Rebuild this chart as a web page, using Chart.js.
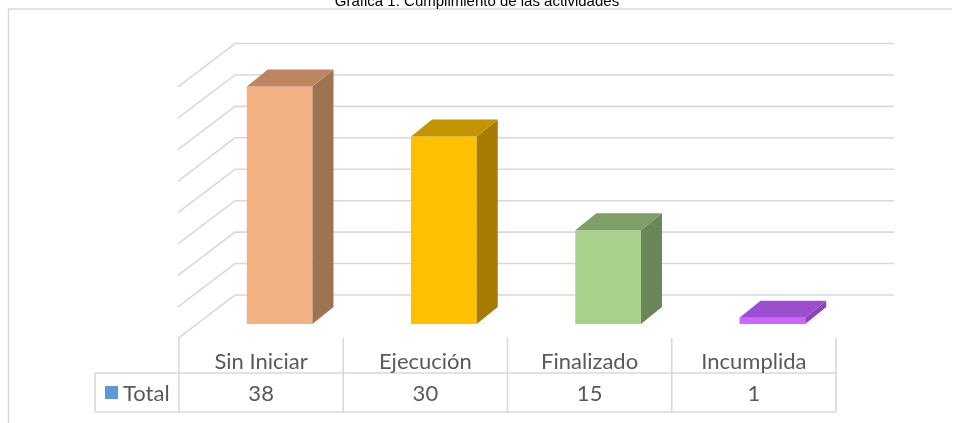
<!DOCTYPE html>
<html>
<head>
<meta charset="utf-8">
<script src="https://cdn.jsdelivr.net/npm/chart.js@4/dist/chart.umd.min.js"></script>
<style>
html,body{margin:0;padding:0;background:#fff;}
#wrap{width:953px;height:423px;position:relative;}
</style>
</head>
<body>
<div id="wrap"><canvas id="c" width="953" height="423"></canvas></div>
<script>
// ---- data ----
const categories = ['Sin Iniciar', 'Ejecución', 'Finalizado', 'Incumplida'];
const totals = [38, 30, 15, 1];
const seriesName = 'Total';
const chartTitle = 'Grafica 1. Cumplimiento de las actividades';
const yMin = 0;
const yMax = 40;
const yStep = 5;

// ---- styles ----
const frontColors = ['#f4b183', '#ffc000', '#a9d18e', '#cc66ff'];
const sideColors  = ['#9e7350', '#a67c00', '#6b8657', '#8a45b8'];
const topColors   = ['#bd8660', '#c49400', '#7f9f69', '#9b4fcf'];
const gridColor = '#d9d9d9';
const textColor = '#595959';
const legendColor = '#5b9bd5';
const tableFont = '22px Lato, Calibri, "Open Sans", sans-serif';

const DEPTH_DX = 21, DEPTH_DY = 17;      // bar depth projection
const PROJ_SHIFT = 18.5;                 // bar plane vs front plane
const BACK_DX = 37.5, BACK_DY = 29;      // back wall vs bar plane
const WALL_DX = 57, WALL_DY = 43.3;      // full floor depth

const scene = {
  id: 'scene',
  beforeDatasetsDraw(chart) {
    const ctx = chart.ctx, ca = chart.chartArea, ys = chart.scales.y;
    ctx.save();
    // outer frame (top + left)
    ctx.strokeStyle = gridColor; ctx.lineWidth = 1.5;
    ctx.beginPath(); ctx.moveTo(8.5, 423); ctx.lineTo(8.5, 9); ctx.lineTo(952, 9); ctx.stroke();
    // title
    ctx.fillStyle = '#000'; ctx.font = '15px "Liberation Sans", Arial, sans-serif';
    ctx.textAlign = 'center'; ctx.textBaseline = 'alphabetic';
    ctx.fillText(chartTitle, 477, 6);
    // back wall gridlines + left side wall diagonals
    const floorY = ys.getPixelForValue(yMin);
    const backLeft = ca.left + BACK_DX, backRight = ca.right + 39.5;
    ctx.strokeStyle = gridColor; ctx.lineWidth = 1.6;
    ys.ticks.forEach(t => {
      const h = (floorY - ys.getPixelForValue(t.value)) * 1.006;
      const yb = floorY - BACK_DY - h;
      ctx.beginPath();
      ctx.moveTo(backRight, yb); ctx.lineTo(backLeft, yb);
      ctx.lineTo(backLeft - WALL_DX, yb + WALL_DY);
      ctx.stroke();
    });
    ctx.restore();
  },
  afterDatasetsDraw(chart) {
    const ctx = chart.ctx, ca = chart.chartArea, xs = chart.scales.x;
    const meta = chart.getDatasetMeta(0);
    ctx.save();
    meta.data.forEach((bar, i) => {
      const p = bar.getProps(['x', 'y', 'base', 'width'], true);
      const l = p.x - p.width / 2, r = p.x + p.width / 2;
      // side
      ctx.fillStyle = sideColors[i];
      ctx.beginPath();
      ctx.moveTo(r, p.y); ctx.lineTo(r + DEPTH_DX, p.y - DEPTH_DY);
      ctx.lineTo(r + DEPTH_DX, p.base - DEPTH_DY); ctx.lineTo(r, p.base);
      ctx.closePath(); ctx.fill();
      // top
      ctx.fillStyle = topColors[i];
      ctx.beginPath();
      ctx.moveTo(l, p.y); ctx.lineTo(l + DEPTH_DX, p.y - DEPTH_DY);
      ctx.lineTo(r + DEPTH_DX, p.y - DEPTH_DY); ctx.lineTo(r, p.y);
      ctx.closePath(); ctx.fill();
    });
    // data table
    const half = (xs.getPixelForValue(1) - xs.getPixelForValue(0)) / 2;
    const colX = i => xs.getPixelForValue(i) - PROJ_SHIFT;
    const tRight = colX(categories.length - 1) + half;
    const rowTop = 373, rowBot = 412, headTop = 338, boxLeft = 95;
    ctx.strokeStyle = gridColor; ctx.lineWidth = 1.6;
    ctx.beginPath();
    ctx.moveTo(boxLeft, rowTop); ctx.lineTo(tRight, rowTop);
    ctx.moveTo(boxLeft, rowBot); ctx.lineTo(tRight, rowBot);
    ctx.moveTo(boxLeft, rowTop); ctx.lineTo(boxLeft, rowBot);
    for (let i = 0; i <= categories.length; i++) {
      const x = colX(0) - half + i * 2 * half;
      ctx.moveTo(x, headTop); ctx.lineTo(x, rowBot);
    }
    ctx.stroke();
    ctx.fillStyle = textColor; ctx.font = tableFont;
    ctx.textAlign = 'center'; ctx.textBaseline = 'alphabetic';
    categories.forEach((c, i) => {
      ctx.fillText(c, colX(i), 369);
      ctx.fillText(String(totals[i]), colX(i), 401);
    });
    ctx.fillStyle = legendColor; ctx.fillRect(105, 386, 13, 13);
    ctx.fillStyle = textColor; ctx.textAlign = 'left';
    ctx.fillText(seriesName, 123, 401);
    ctx.restore();
  }
};

new Chart(document.getElementById('c'), {
  type: 'bar',
  data: {
    labels: categories,
    datasets: [{
      label: seriesName,
      data: totals,
      backgroundColor: frontColors,
      borderWidth: 0,
      barPercentage: 0.4,
      categoryPercentage: 1
    }]
  },
  options: {
    responsive: false,
    animation: false,
    layout: { padding: { left: 197.5, right: 98.5, top: 74, bottom: 99 } },
    plugins: { legend: { display: false }, title: { display: false }, tooltip: { enabled: false } },
    scales: {
      x: { display: false, offset: true },
      y: { display: false, min: yMin, max: yMax, ticks: { stepSize: yStep } }
    }
  },
  plugins: [scene]
});
</script>
</body>
</html>
